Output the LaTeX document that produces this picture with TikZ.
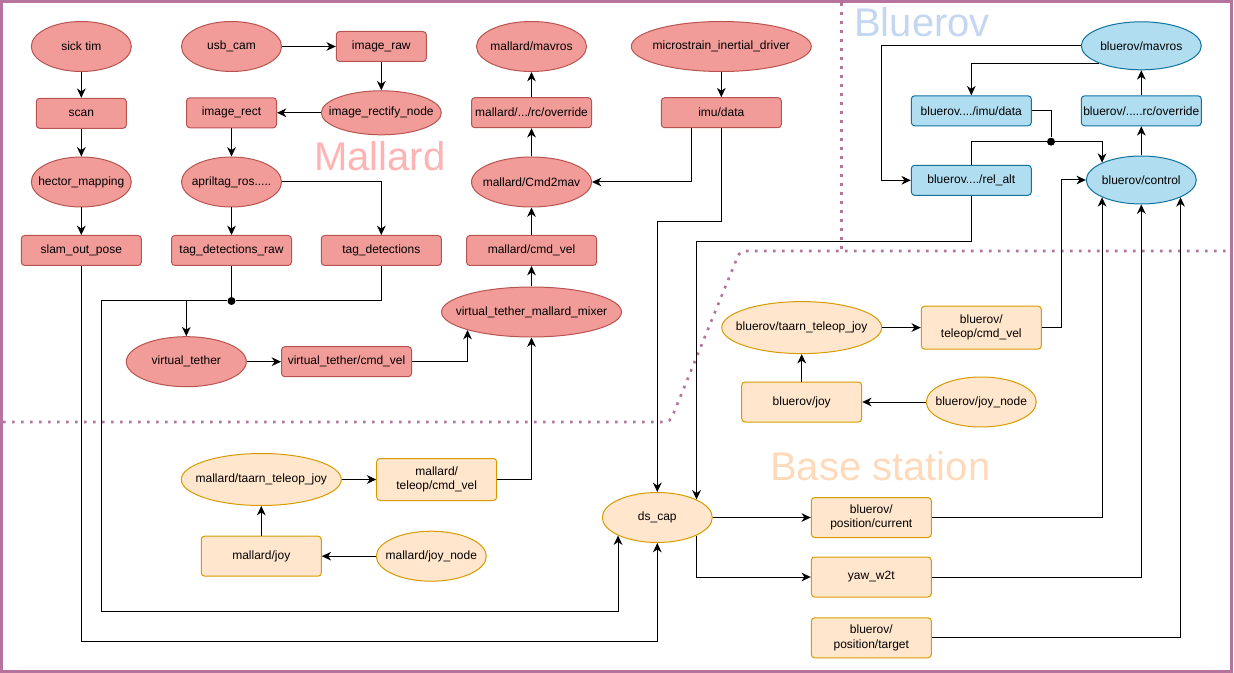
\documentclass[tikz,border=0pt]{standalone}
\usepackage{fontspec}
\setmainfont{Liberation Sans}
\usepackage{xcolor}
\usetikzlibrary{shapes.geometric,arrows.meta,calc}

\definecolor{malfill}{RGB}{241,156,153}
\definecolor{malline}{RGB}{184,84,80}
\definecolor{stnfill}{RGB}{255,230,204}
\definecolor{stnline}{RGB}{215,155,0}
\definecolor{blufill}{RGB}{177,221,240}
\definecolor{bluline}{RGB}{16,115,158}
\definecolor{framecol}{RGB}{181,115,157}
\definecolor{malttl}{RGB}{255,179,179}
\definecolor{bluttl}{RGB}{196,214,240}
\definecolor{stnttl}{RGB}{255,218,186}

\begin{document}
\begin{tikzpicture}[x=0.75pt,y=0.75pt,yscale=-1,xscale=1,
  every node/.style={font=\fontsize{9pt}{10.8pt}\selectfont, inner sep=0.75pt, align=center},
  wh/.style 2 args={minimum width=#1*0.75pt, minimum height=#2*0.75pt},
  malbox/.style={draw=malline, fill=malfill, rounded corners=2.5pt, line width=0.75pt},
  malell/.style={ellipse, draw=malline, fill=malfill, line width=0.75pt, inner xsep=-40pt},
  stnbox/.style={draw=stnline, fill=stnfill, rounded corners=2.5pt, line width=0.75pt},
  stnell/.style={ellipse, draw=stnline, fill=stnfill, line width=0.75pt, inner xsep=-40pt},
  blubox/.style={draw=bluline, fill=blufill, rounded corners=2.5pt, line width=0.75pt},
  bluell/.style={ellipse, draw=bluline, fill=blufill, line width=0.75pt, inner xsep=-40pt},
  junc/.style={circle, fill=black, inner sep=0pt, minimum size=6pt},
  arr/.style={-{Stealth[length=7pt,width=6.5pt,inset=2.2pt]}, line width=0.75pt},
  link/.style={line width=0.75pt},
  sep/.style={draw=framecol, line width=2pt, dash pattern=on 2pt off 4.75pt}
]
\useasboundingbox (0,0) rectangle (1234,673);

%Shape: Frame
\draw [framecol, line width=2.25pt] (1.5,1.5) rectangle (1231.5,671.5);
%Dotted separators
\draw [sep, rounded corners=4pt] (3,422) -- (670,422) -- (740,251) -- (1230,251);
\draw [sep] (841.7,3) -- (841.7,251);

% Region titles
\node (ttlmal) at (313,170.7) [anchor=base west, text=malttl, font=\fontsize{30pt}{36pt}\selectfont] {Mallard};
\node (ttlblu) at (853,36.5) [anchor=base west, text=bluttl, font=\fontsize{30pt}{36pt}\selectfont] {Bluerov};
\node (ttlstn) at (769,480) [anchor=base west, text=stnttl, font=\fontsize{30pt}{36pt}\selectfont] {Base station};

%Mallard nodes
\node (sick) at (81.3,46.5) [malell, wh={100}{50}] {sick tim};
\node (scan) at (81.3,113.3) [malbox, wh={90}{30}] {scan};
\node (hector) at (81.3,182) [malell, wh={100}{50}] {hector\_mapping};
\node (slam) at (81.3,250.5) [malbox, wh={120}{30}] {slam\_out\_pose};
\node (usb) at (231.5,46.5) [malell, wh={100}{50}] {usb\_cam};
\node (imraw) at (381.3,46.5) [malbox, wh={90}{30}] {image\_raw};
\node (rectify) at (381.3,112.8) [malell, wh={120}{44}] {image\_rectify\_node};
\node (imrect) at (231.5,112.8) [malbox, wh={90}{30}] {image\_rect};
\node (april) at (231.5,182) [malell, wh={100}{50}] {apriltag\_ros.....};
\node (tagraw) at (231.5,250.5) [malbox, wh={120}{30}] {tag\_detections\_raw};
\node (tagdet) at (381.3,250.5) [malbox, wh={120}{30}] {tag\_detections};
\node (mmav) at (531.5,46.5) [malell, wh={110}{50}] {mallard/mavros};
\node (mrc) at (531.5,112.7) [malbox, wh={120}{30}] {mallard/.../rc/override};
\node (cmd2mav) at (531.5,182) [malell, wh={120}{50}] {mallard/Cmd2mav};
\node (mcmd) at (531.5,250.5) [malbox, wh={130}{30}] {mallard/cmd\_vel};
\node (mixer) at (531.5,312) [malell, wh={180}{50}] {virtual\_tether\_mallard\_mixer};
\node (micro) at (721.3,46.5) [malell, wh={180}{50}] {microstrain\_inertial\_driver};
\node (imu) at (721.3,112.7) [malbox, wh={120}{30}] {imu/data};
\node (vt) at (186.3,361.7) [malell, wh={120}{50}] {virtual\_tether};
\node (vtcmd) at (346.5,361.7) [malbox, wh={130}{30}] {virtual\_tether/cmd\_vel};
\node (mdot) at (231.5,301) [junc] {};
\coordinate (mcorner) at (101,611);

%Base station nodes
\node (mtaarn) at (261.3,479.5) [stnell, wh={160}{52}] {mallard/taarn\_teleop\_joy};
\node (mtcmd) at (436.7,479.5) [stnbox, wh={120}{42}] {mallard/\\teleop/cmd\_vel};
\node (mjoy) at (261.3,556.2) [stnbox, wh={120}{40}] {mallard/joy};
\node (mjoynode) at (431.3,556.2) [stnell, wh={110}{50}] {mallard/joy\_node};
\node (ds) at (657.3,517.5) [stnell, wh={110}{50}] {ds\_cap};
\node (btaarn) at (801.7,327.6) [stnell, wh={160}{52}] {bluerov/taarn\_teleop\_joy};
\node (btcmd) at (981.3,327.6) [stnbox, wh={120}{43}] {bluerov/\\teleop/cmd\_vel};
\node (bjoy) at (801.7,402) [stnbox, wh={120}{40}] {bluerov/joy};
\node (bjoynode) at (981.3,402) [stnell, wh={110}{50}] {bluerov/joy\_node};
\node (pcur) at (871.3,517.5) [stnbox, wh={120}{40}] {bluerov/\\position/current};
\node (yaw) at (871.3,577) [stnbox, wh={120}{40}] {yaw\_w2t};
\node (ptgt) at (871.3,637.8) [stnbox, wh={120}{40}] {bluerov/\\position/target};

%Bluerov nodes
\node (bmav) at (1141.3,45.8) [bluell, wh={120}{48}] {bluerov/mavros};
\node (brc) at (1141.3,110.8) [blubox, wh={120}{30}] {bluerov/.....rc/override};
\node (bimu) at (971.3,110.8) [blubox, wh={120}{30}] {bluerov..../imu/data};
\node (brel) at (971.3,180.3) [blubox, wh={120}{30}] {bluerov..../rel\_alt};
\node (ctrl) at (1141.3,180) [bluell, wh={110}{48}] {bluerov/control};
\node (bdot) at (1051,141.7) [junc] {};

%Mallard connectors
\draw [arr] (sick) -- (scan);
\draw [arr] (scan) -- (hector);
\draw [arr] (hector) -- (slam);
\draw [arr] (usb) -- (imraw);
\draw [arr] (imraw) -- (rectify);
\draw [arr] (rectify) -- (imrect);
\draw [arr] (imrect) -- (april);
\draw [arr] (april) -- (tagraw);
\draw [arr] (april.east) -| (tagdet.north);
\draw [link] (tagraw.south) -- (mdot);
\draw [link] (tagdet.south) |- (mdot);
\draw [arr] (mdot) -| (vt.north);
\draw [arr] (mdot) -| (mcorner) -| (ds.south west);
\draw [arr] (slam.south) -- ++(0,375.5) -| (ds.south);
\draw [arr] (vt) -- (vtcmd);
\draw [arr] (vtcmd.east) -| (mixer.south west);
\draw [arr] (mixer) -- (mcmd);
\draw [arr] (mcmd) -- (cmd2mav);
\draw [arr] (cmd2mav) -- (mrc);
\draw [arr] (mrc) -- (mmav);
\draw [arr] (micro) -- (imu);
\draw [arr] ($(imu.south)+(-29.6,0)$) |- (cmd2mav.east);
\draw [arr] (imu.south) -- ++(0,93.3) -| (ds.north);

%Base station connectors
\draw [arr] (mtaarn) -- (mtcmd);
\draw [arr] (mjoy) -- (mtaarn);
\draw [arr] (mjoynode) -- (mjoy);
\draw [arr] (mtcmd.east) -| (mixer.south);
\draw [arr] (btaarn) -- (btcmd);
\draw [arr] (bjoy) -- (btaarn);
\draw [arr] (bjoynode) -- (bjoy);
\draw [arr] (ds.east) -- (pcur.west);
\draw [arr] (ds.south east) |- (yaw.west);
\draw [arr] (btcmd.east) -- ++(20,0) |- (ctrl.west);
\draw [arr] (pcur.east) -| (ctrl.south west);
\draw [arr] (yaw.east) -| (ctrl.south);
\draw [arr] (ptgt.east) -| (ctrl.south east);

%Bluerov connectors
\draw [arr] (ctrl) -- (brc);
\draw [arr] (brc) -- (bmav);
\draw [arr] (bmav.west) -- ++(-199.3,0) |- (brel.west);
\draw [arr] (bmav.south west) -| (bimu.north);
\draw [link] (bimu.east) -| (bdot);
\draw [link] (brel.north) |- (bdot);
\draw [arr] (bdot) -| (ctrl.north west);
\draw [arr] (brel.south) -- ++(0,45.7) -| (ds.north east);

\end{tikzpicture}
\end{document}
